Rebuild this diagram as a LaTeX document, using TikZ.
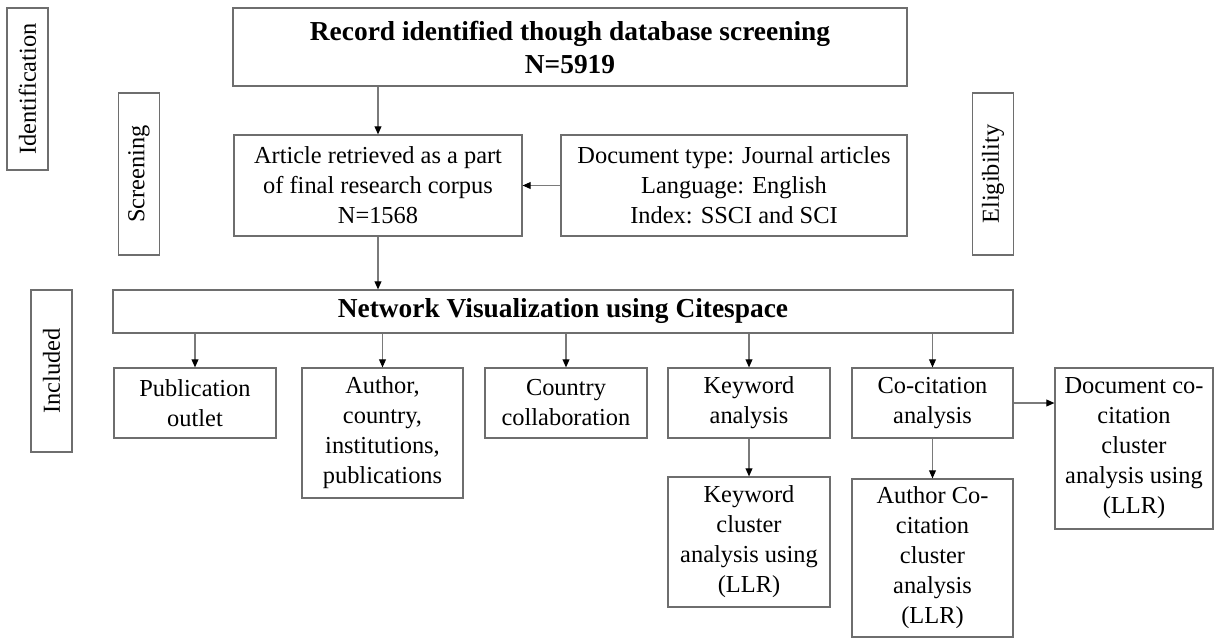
\documentclass[tikz,border=0pt]{standalone}
\usepackage{fontspec}
\setmainfont{Liberation Serif}
\usepackage{xcolor}
\usetikzlibrary{arrows.meta,positioning,calc}
\definecolor{Frame}{HTML}{6E6E6E}
\definecolor{Wire}{HTML}{7A7A7A}

\begin{document}
\begin{tikzpicture}[x=0.5pt,y=-0.5pt,
  every node/.style={font=\fontsize{12.2}{15}\selectfont},
  box/.style={draw=Frame,line width=0.6pt,align=center,inner sep=0pt},
  headbox/.style={box,font=\fontsize{13.7}{16.5}\selectfont\bfseries},
  stagebox/.style={box,rotate=90,minimum width=81pt,minimum height=20.5pt},
  arr/.style={-{Triangle[length=4pt,width=3.4pt,color=black]},Wire,line width=0.55pt}]
  \useasboundingbox (0,0) rectangle (1215,638);
  % stage labels
  \node[stagebox] (ident) at (27.5,89) {Identification};
  \node[stagebox] (screen) at (139,174) {Screening};
  \node[stagebox] (elig) at (993,174) {Eligibility};
  \node[stagebox] (incl) at (51.5,371) {Included};
  % main flow
  \node[headbox,minimum width=337pt,minimum height=39pt] (record) at (570,47) {Record identified though database screening\\N=5919};
  \node[box,minimum width=144pt,minimum height=50.5pt] (corpus) at (378,185.5) {Article retrieved as a part\\of final research corpus\\N=1568};
  \node[box,minimum width=173pt,minimum height=50.5pt] (criteria) at (734,185.5) {Document type: Journal articles\\Language: English\\Index: SSCI and SCI};
  \node[headbox,minimum width=450pt,minimum height=21.5pt] (network) at (563,311.5) {Network Visualization using Citespace};
  % analyses
  \node[box,minimum width=81pt,minimum height=35pt] (outlet) at (195,403) {Publication\\outlet};
  \node[box,minimum width=80.5pt,minimum height=65pt] (author) at (382.5,433) {Author,\\country,\\institutions,\\publications};
  \node[box,minimum width=81pt,minimum height=35pt] (country) at (566,403) {Country\\collaboration};
  \node[box,minimum width=81pt,minimum height=35pt] (keyword) at (749,403) {Keyword\\analysis};
  \node[box,minimum width=80.5pt,minimum height=35pt] (cocit) at (932.5,403) {Co-citation\\analysis};
  \node[box,minimum width=81pt,minimum height=65pt] (kwcluster) at (749,542) {Keyword\\cluster\\analysis using\\(LLR)};
  \node[box,minimum width=80.5pt,minimum height=79pt] (aucocit) at (932.5,558) {Author Co-\\citation\\cluster\\analysis\\(LLR)};
  \node[box,minimum width=79pt,minimum height=80.5pt] (doccocit) at (1134,448.5) {Document co-\\citation\\cluster\\analysis using\\(LLR)};
  % connectors
  \draw[arr] (record.south -| corpus.north) -- (corpus.north);
  \draw[arr] (criteria.west) -- (corpus.east);
  \draw[arr] (corpus.south) -- (network.north -| corpus.south);
  \foreach \n in {outlet,author,country,keyword,cocit}
    \draw[arr] (network.south -| \n.north) -- (\n.north);
  \draw[arr] (keyword.south) -- (kwcluster.north);
  \draw[arr] (cocit.south) -- (aucocit.north);
  \draw[arr] (cocit.east) -- (cocit.east -| doccocit.west);
\end{tikzpicture}
\end{document}
